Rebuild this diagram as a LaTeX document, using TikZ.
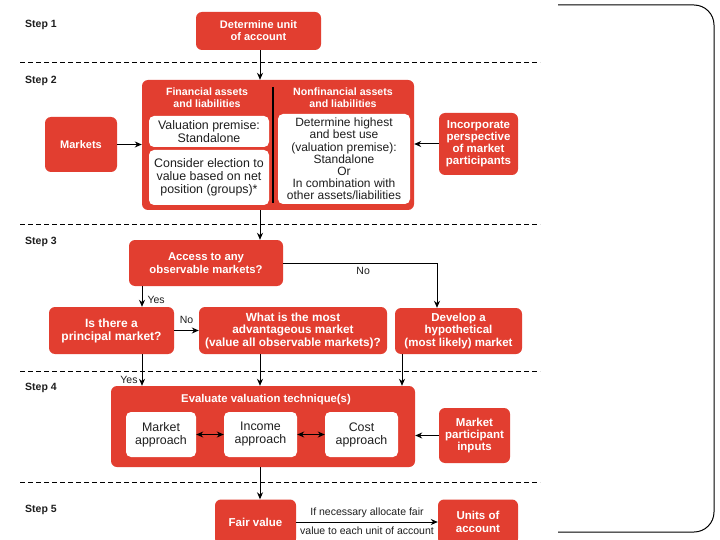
\documentclass[tikz,border=0pt]{standalone}
\usepackage{fontspec}
\setmainfont{Liberation Sans}
\usetikzlibrary{arrows.meta,calc}
\definecolor{kred}{RGB}{226,62,48}
\definecolor{ink}{RGB}{30,30,30}
\begin{document}
\begin{tikzpicture}[x=1pt,y=-1pt,
 redbox/.style={fill=kred, rounded corners=6pt, text=white, font=\fontsize{11}{12}\selectfont\bfseries, align=center, inner sep=0pt},
 whitebox/.style={fill=white, rounded corners=5pt, text=ink, font=\fontsize{12.4}{13}\selectfont, align=center, inner sep=0pt},
 hdr/.style={text=white, font=\fontsize{10.6}{12}\selectfont\bfseries, align=center, inner sep=0pt},
 arr/.style={draw=black, line width=1pt, -{Stealth[length=7pt,width=6pt]}},
 darr/.style={draw=black, line width=1pt, {Stealth[length=7pt,width=6pt]}-{Stealth[length=7pt,width=6pt]}},
 dline/.style={draw=black, line width=0.8pt, dash pattern=on 5pt off 3pt},
 steplab/.style={anchor=west, font=\fontsize{10.5}{12}\selectfont\bfseries, text=ink, inner sep=0pt},
 lab/.style={font=\fontsize{10.5}{11}\selectfont, text=ink, inner sep=0pt}]
\useasboundingbox (0,0) rectangle (720,540);
\clip (0,0) rectangle (720,540);
\fill[white] (0,0) rectangle (720,540);

% columns
\coordinate (colA) at (142,0);
\coordinate (colB) at (260,0);
\coordinate (colC) at (402,0);
\coordinate (colD) at (437,0);

% step labels
\node[steplab] (s1) at (25,25) {Step 1};
\node[steplab] (s2) at (25,81) {Step 2};
\node[steplab] (s3) at (25,242) {Step 3};
\node[steplab] (s4) at (25,388) {Step 4};
\node[steplab] (s5) at (25,510) {Step 5};

% separators
\draw[dline] (20,62) -- (540,62);
\draw[dline] (20,224) -- (540,224);
\draw[dline] (20,371) -- (540,371);
\draw[dline] (20,482) -- (540,482);

% frame on right
\draw[line width=1pt, rounded corners=20pt] (558,5) -- (714,5) -- (714,532) -- (558,532);

% step 1
\node[redbox, minimum width=125pt, minimum height=38pt] (unit) at (258.5,31) {Determine unit\\of account};

% step 2
\node[redbox, minimum width=272pt, minimum height=130pt] (big2) at (278,145) {};
\node[hdr] (finhead) at (207,98) {Financial assets\\and liabilities};
\node[hdr] (nonfinhead) at (343,98) {Nonfinancial assets\\and liabilities};
\draw[line width=1.5pt, black] (273,87) -- (273,203);
\node[whitebox, minimum width=120pt, minimum height=31pt] (val) at (209,131.5) {Valuation premise:\\Standalone};
\node[whitebox, minimum width=120pt, minimum height=55pt] (cons) at (209,177.5) {Consider election to\\value based on net\\position (groups)*};
\node[whitebox, minimum width=132pt, minimum height=90pt, font=\fontsize{12}{12.2}\selectfont] (nonbox) at (344,159) {Determine highest\\and best use\\(valuation premise):\\Standalone\\Or\\In combination with\\other assets/liabilities};
\node[redbox, minimum width=72pt, minimum height=55pt] (markets) at (81,144.5) {Markets};
\node[redbox, minimum width=79pt, minimum height=62pt, font=\fontsize{11.5}{12}\selectfont\bfseries] (incorp) at (478.5,144) {Incorporate\\perspective\\of market\\participants};
\draw[arr] (unit.south -| colB) -- (big2.north -| colB);
\draw[arr] (markets.east) -- (big2.west |- markets.east);
\draw[arr] (incorp.west) -- (big2.east |- incorp.west);

% step 3
\node[redbox, minimum width=154pt, minimum height=46pt, font=\fontsize{11.3}{12.5}\selectfont\bfseries] (access) at (206,263) {Access to any\\observable markets?};
\node[redbox, minimum width=125pt, minimum height=47pt, font=\fontsize{12}{13}\selectfont\bfseries] (principal) at (111.5,330.5) {Is there a\\principal market?};
\node[redbox, minimum width=188pt, minimum height=47pt, font=\fontsize{11.8}{12.5}\selectfont\bfseries] (what) at (293,330.5) {What is the most\\advantageous market\\(value all observable markets)?};
\node[redbox, minimum width=127pt, minimum height=46pt, font=\fontsize{11.5}{12.5}\selectfont\bfseries] (develop) at (458.5,331) {Develop a\\hypothetical\\(most likely) market};
\draw[arr] (big2.south -| colB) -- (access.north -| colB);
\draw[arr] (access.south -| colA) -- node[lab, anchor=west, xshift=5pt, yshift=-3pt] {Yes} (principal.north -| colA);
\draw[arr] (access.east) -| node[lab, pos=0.26, below=4pt] {No} (develop.north -| colD);
\draw[arr] (principal.east) -- node[lab, above=6pt] {No} (what.west);

% step 4
\node[redbox, minimum width=304pt, minimum height=81pt] (eval) at (263,426.5) {};
\node[hdr, font=\fontsize{11.3}{12}\selectfont\bfseries] (evalhead) at (266,400) {Evaluate valuation technique(s)};
\node[whitebox, minimum width=70pt, minimum height=45pt] (mkt) at (161,434.5) {Market\\approach};
\node[whitebox, minimum width=73pt, minimum height=45pt] (inc) at (260.5,434.5) {Income\\approach};
\node[whitebox, minimum width=73pt, minimum height=45pt] (cost) at (361.5,434.5) {Cost\\approach};
\node[redbox, minimum width=71pt, minimum height=55pt, font=\fontsize{11.5}{12}\selectfont\bfseries] (mpi) at (474.5,435.5) {Market\\participant\\inputs};
\draw[arr] (principal.south -| colA) -- node[lab, pos=0.82, anchor=east, xshift=-4pt] {Yes} (eval.north -| colA);
\draw[arr] (what.south -| colB) -- (eval.north -| colB);
\draw[arr] (develop.south -| colC) -- (eval.north -| colC);
\draw[darr] (mkt.east) -- (inc.west);
\draw[darr] (inc.east) -- (cost.west);
\draw[arr] (mpi.west) -- (eval.east |- mpi.west);

% step 5
\node[redbox, minimum width=81pt, minimum height=45pt, font=\fontsize{11.5}{12.5}\selectfont\bfseries] (fair) at (255.5,522) {Fair value};
\node[redbox, minimum width=80pt, minimum height=45pt, font=\fontsize{11.5}{12.5}\selectfont\bfseries] (units) at (478,522) {Units of\\account};
\draw[arr] (eval.south -| colB) -- (fair.north -| colB);
\draw[arr] (fair.east) -- node[lab, above=4pt] {If necessary allocate fair} node[lab, below=4pt] {value to each unit of account} (units.west);
\end{tikzpicture}
\end{document}
